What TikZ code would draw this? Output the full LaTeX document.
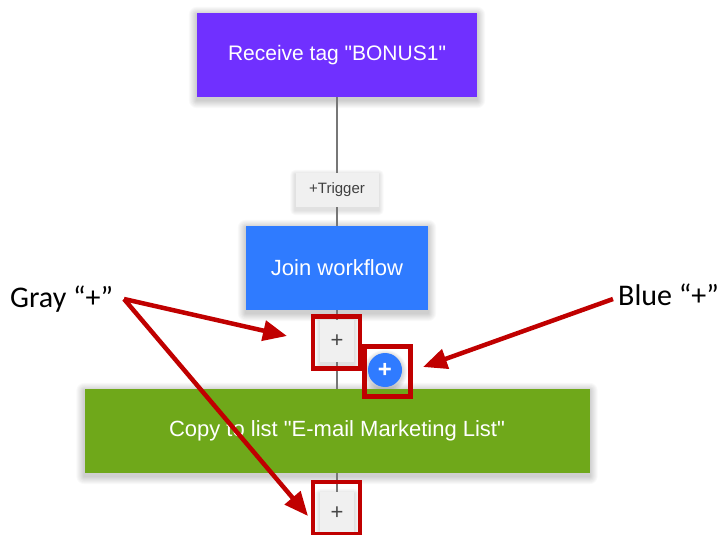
\documentclass[tikz,border=0pt]{standalone}
\usepackage{fontspec}
\setmainfont{Liberation Sans}
\newfontfamily\annfont{Carlito}
\usetikzlibrary{arrows.meta}
\definecolor{cpurple}{HTML}{7030FF}
\definecolor{cblue}{HTML}{2F7BFF}
\definecolor{cgreen}{HTML}{6FA81A}
\definecolor{cred}{HTML}{C00000}
\definecolor{cline}{HTML}{777777}
\definecolor{cgraybox}{HTML}{F0F0F0}
\pgfdeclarelayer{shadowlayer}
\pgfdeclarelayer{connlayer}
\pgfsetlayers{shadowlayer,connlayer,main}
\newcommand{\mysoftshadow}[2]{% node name, max spread
  \begin{pgfonlayer}{shadowlayer}
  \foreach \s in {1,...,#2}{
    \fill[black, opacity=0.022, rounded corners=\s pt]
      ([xshift=-\s pt, yshift=\s pt-2pt]#1.north west) rectangle ([xshift=\s pt, yshift=-\s pt-3pt]#1.south east);
  }
  \end{pgfonlayer}}
\tikzset{
  card/.style={draw=none, text=white, inner sep=0pt, font=\fontsize{21}{24}\selectfont},
  plusbox/.style={fill=cgraybox, minimum width=34pt, minimum height=42pt, inner sep=0pt,
    text=black!72, font=\fontsize{22}{22}\selectfont},
  hilite/.style={draw=cred, line width=4.5pt, inner sep=0pt},
  callout/.style={draw=cred, line width=4.5pt, -{Triangle[length=24pt,width=20pt]}},
  conn/.style={draw=cline, line width=1.2pt},
  anntext/.style={font=\annfont\fontsize{30}{32}\selectfont, text=black, inner sep=0pt}
}
\begin{document}
\begin{tikzpicture}[x=1pt,y=-1pt]
\begin{pgfonlayer}{shadowlayer}
\fill[white] (0,0) rectangle (721,535);
\end{pgfonlayer}
\useasboundingbox (0,0) rectangle (721,535);
% nodes
\node[card, fill=cpurple, minimum width=280pt, minimum height=84pt] (recv) at (337,55) {Receive tag \textquotedbl BONUS1\textquotedbl};
\node[fill=cgraybox, minimum width=83pt, minimum height=34pt, inner sep=0pt, text=black!75,
  font=\fontsize{15}{16}\selectfont] (trig) at (337,190) {+Trigger};
\node[card, fill=cblue, minimum width=182pt, minimum height=84pt, font=\fontsize{22}{24}\selectfont] (join) at (337,268) {Join workflow};
\node[plusbox] (gplus) at (337,341) {+};
\node[card, fill=cgreen, minimum width=505pt, minimum height=84pt, font=\fontsize{22}{24}\selectfont] (copy) at (337,431) {Copy to list \textquotedbl E-mail Marketing List\textquotedbl};
\node[plusbox] (bplus) at (337,513) {+};
% blue plus circle
\node[circle, fill=cblue, minimum size=34pt, inner sep=0pt, text=white,
  font=\bfseries\fontsize{24}{24}\selectfont] (blueplus) at (385,370) {+};
% connectors (under the nodes)
\begin{pgfonlayer}{connlayer}
\draw[conn] (recv.south) -- (trig.north);
\draw[conn] (trig.south) -- (join.north);
\draw[conn] (join.south) -- (gplus.north);
\draw[conn] (gplus.south) -- (copy.north);
\draw[conn] (copy.south) -- (bplus.north);
\end{pgfonlayer}
% shadows
\mysoftshadow{recv}{8}
\mysoftshadow{join}{8}
\mysoftshadow{copy}{8}
\mysoftshadow{trig}{5}
\mysoftshadow{gplus}{5}
\mysoftshadow{bplus}{5}
\begin{pgfonlayer}{shadowlayer}
\foreach \s in {1,...,5}{
  \fill[black, opacity=0.03] ([yshift=-2pt]blueplus.center) circle (17pt+\s pt);
}
\end{pgfonlayer}
% highlight frames
\node[hilite, minimum width=47pt, minimum height=52pt] (hgray) at (336.5,342.5) {};
\node[hilite, minimum width=46pt, minimum height=50pt] (hblue) at (387.5,371.5) {};
\node[hilite, minimum width=47pt, minimum height=52pt] (hbottom) at (336.5,508) {};
% annotation texts
\node[anntext, anchor=west] (graytxt) at (10,299) {Gray “+”};
\node[anntext, anchor=west] (bluetxt) at (618,295) {Blue “+”};
% callout arrows
\coordinate (gstart) at (124,299);
\coordinate (gtip1) at (287,336);
\coordinate (gtip2) at (308,516);
\coordinate (bstart) at (613,299);
\coordinate (btip) at (423,367);
\draw[callout] (gstart) -- (gtip1);
\draw[callout] (gstart) -- (gtip2);
\draw[callout] (bstart) -- (btip);
\end{tikzpicture}
\end{document}
